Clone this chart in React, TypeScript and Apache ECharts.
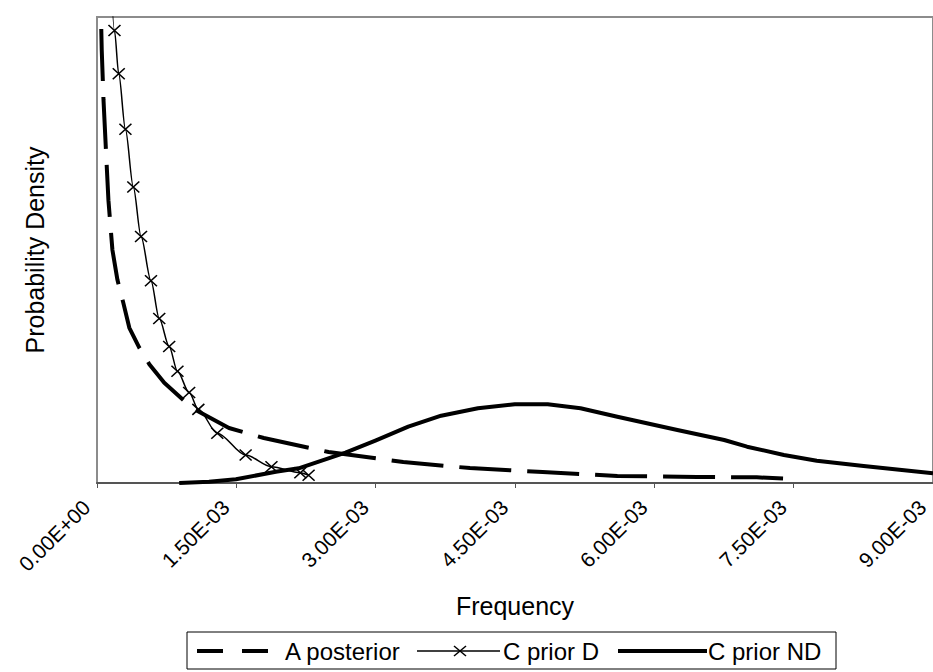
import React, { useEffect, useRef } from "react";
import * as echarts from "echarts";

// Frequencies are in units of 1e-3
const tickLabels = ["0.00E+00", "1.50E-03", "3.00E-03", "4.50E-03", "6.00E-03", "7.50E-03", "9.00E-03"];

const aPosteriorX = [0.03, 0.051, 0.07, 0.096, 0.123, 0.166, 0.22, 0.284, 0.348, 0.456, 0.563, 0.724, 1.024, 1.421, 1.796, 2.493, 3.297, 4.015, 4.798, 5.602, 6.46, 7.103, 7.5];
const aPosteriorY = [112, 92.9, 82.2, 71.5, 60.7, 50.0, 43.6, 38.6, 33.3, 29.0, 25.5, 21.5, 16.1, 11.8, 9.66, 6.65, 4.5, 3.2, 2.36, 1.5, 1.29, 1.22, 0.86];

const priorDX = [0.12, 0.188, 0.234, 0.306, 0.391, 0.474, 0.581, 0.67, 0.777, 0.866, 0.992, 1.091, 1.295, 1.6, 1.878, 2.189, 2.278];
const priorDY = [125, 97.1, 87.8, 75.9, 63.5, 52.9, 43.4, 35.3, 29.3, 24.0, 19.4, 15.8, 10.7, 6.0, 3.5, 2.2, 1.65];

const priorNDX = [0.885, 1.206, 1.496, 1.925, 2.171, 2.675, 2.997, 3.351, 3.705, 4.101, 4.498, 4.852, 5.205, 5.602, 6.248, 6.752, 6.998, 7.395, 7.749, 8.253, 9.0];
const priorNDY = [0, 0.28, 0.79, 2.42, 3.15, 6.5, 9.08, 12.08, 14.44, 16.03, 16.89, 16.89, 16.03, 14.23, 11.37, 9.23, 7.79, 6.01, 4.79, 3.65, 2.1];

const seriesNames = ["A posterior", "C prior D", "C prior ND"];

const FONT = '"Liberation Sans", Arial, sans-serif';

const pairs = (xs: number[], ys: number[]) => xs.map((x, i) => [x * 1e-3, ys[i]]);

export default function App() {
  const ref = useRef<HTMLDivElement>(null);
  useEffect(() => {
    document.body.style.margin = "0";
    if (!ref.current) return;
    const chart = echarts.init(ref.current, null, { renderer: "svg" });
    const ly = 651;
    const textStyle = (text: string, x: number) => ({
      type: "text",
      x,
      y: ly,
      style: { text, fill: "#000", fontSize: 24, fontFamily: FONT, verticalAlign: "middle", align: "left" },
    });
    const option: any = {
      animation: false,
      backgroundColor: "#fff",
      grid: { left: 97, width: 839, top: 17, height: 466, show: true, borderColor: "#8c8c8c", borderWidth: 2 },
      xAxis: {
        type: "value",
        min: 0,
        max: 0.009,
        interval: 0.0015,
        axisLine: { show: true, onZero: false, lineStyle: { color: "#555", width: 2 } },
        axisTick: { show: true, length: 5, lineStyle: { color: "#555", width: 1 } },
        splitLine: { show: false },
        axisLabel: {
          rotate: 45,
          fontSize: 21,
          fontFamily: FONT,
          color: "#000",
          margin: 10,
          padding: [0, 15, 0, 0],
          showMinLabel: true,
          showMaxLabel: true,
          formatter: (v: number) => tickLabels[Math.round(v / 0.0015)] ?? "",
        },
        name: "Frequency",
        nameLocation: "middle",
        nameGap: 110,
        nameTextStyle: { fontSize: 25, fontFamily: FONT, color: "#000" },
      },
      yAxis: {
        type: "value",
        min: 0,
        max: 100,
        axisLine: { show: true, lineStyle: { color: "#8c8c8c", width: 2 } },
        axisTick: { show: false },
        axisLabel: { show: false },
        splitLine: { show: false },
        name: "Probability Density",
        nameLocation: "middle",
        nameGap: 50,
        nameRotate: 90,
        nameTextStyle: { fontSize: 25, fontFamily: FONT, color: "#000" },
      },
      series: [
        {
          name: seriesNames[0],
          type: "line",
          data: pairs(aPosteriorX, aPosteriorY),
          symbol: "none",
          clip: true,
          lineStyle: { color: "#000", width: 4, type: [52, 16] },
        },
        {
          name: seriesNames[1],
          type: "line",
          data: pairs(priorDX, priorDY),
          symbol: "path://M0,0L10,10M10,0L0,10",
          symbolSize: [12, 11],
          showAllSymbol: true,
          smooth: 0.3,
          smoothMonotone: "x",
          clip: true,
          lineStyle: { color: "#000", width: 1.5 },
          itemStyle: { color: "#000", borderColor: "#000", borderWidth: 1.5 },
        },
        {
          name: seriesNames[2],
          type: "line",
          data: pairs(priorNDX, priorNDY),
          symbol: "none",
          clip: true,
          lineStyle: { color: "#000", width: 4, join: "round" },
        },
      ],
      graphic: [
        {
          type: "group",
          children: [
            { type: "rect", shape: { x: 187, y: 632, width: 649, height: 37 }, style: { fill: "#fff", stroke: "#000", lineWidth: 1 } },
            { type: "line", shape: { x1: 197, y1: ly, x2: 223, y2: ly }, style: { stroke: "#000", lineWidth: 4 } },
            { type: "line", shape: { x1: 242, y1: ly, x2: 268, y2: ly }, style: { stroke: "#000", lineWidth: 4 } },
            textStyle(seriesNames[0], 285),
            { type: "line", shape: { x1: 417, y1: ly, x2: 500, y2: ly }, style: { stroke: "#000", lineWidth: 1.5 } },
            { type: "line", shape: { x1: 454, y1: ly - 5, x2: 466, y2: ly + 5 }, style: { stroke: "#000", lineWidth: 1.5 } },
            { type: "line", shape: { x1: 466, y1: ly - 5, x2: 454, y2: ly + 5 }, style: { stroke: "#000", lineWidth: 1.5 } },
            textStyle(seriesNames[1], 503),
            { type: "line", shape: { x1: 618, y1: ly, x2: 707, y2: ly }, style: { stroke: "#000", lineWidth: 4 } },
            textStyle(seriesNames[2], 708),
          ],
        },
      ],
    };
    chart.setOption(option);
    return () => chart.dispose();
  }, []);
  return <div ref={ref} style={{ width: 933, height: 672 }} />;
}
